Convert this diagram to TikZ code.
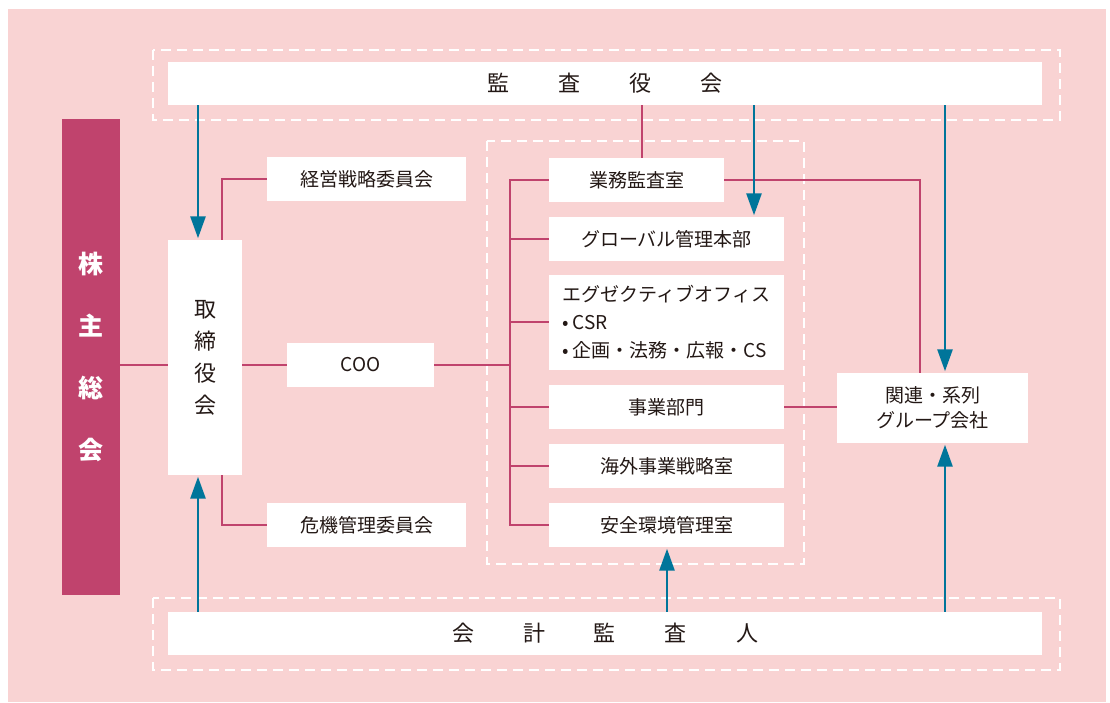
\documentclass[tikz,border=0pt]{standalone}
\usepackage{fontspec}
\setmainfont{Noto Sans CJK JP}
\usetikzlibrary{arrows.meta}
\definecolor{bgpink}{HTML}{F9D3D3}
\definecolor{linepink}{HTML}{C0436D}
\definecolor{arrowblue}{HTML}{00759A}
\definecolor{textdark}{HTML}{231815}

\begin{document}
\begin{tikzpicture}[x=1pt,y=-1pt]
        \tikzstyle{every node}+=[inner sep=0pt]
        \tikzstyle{box}=[fill=white,text=textdark,font=\fontsize{19}{25}\selectfont,align=center]
        \tikzstyle{link}=[linepink,line width=2pt]
        \tikzstyle{flow}=[arrowblue,line width=2.7pt,shorten >=1.5pt,-{Triangle[length=22pt,width=15pt]}]
        \tikzstyle{group}=[white,line width=2.3pt,dash pattern=on 10pt off 6pt]
        \useasboundingbox (0,0) rectangle (1110,702);
        \fill [bgpink] (8,9) rectangle (1106,702);
        \draw [group] (153,50) rectangle (1060,120);
        \draw [group] (153,598) rectangle (1060,670);
        \draw [group] (487,141) rectangle (804,564);
        \coordinate (spine) at (510,0);
        \coordinate (xA) at (198,0);
        \coordinate (xB) at (754,0);
        \coordinate (xC) at (945,0);
        \coordinate (xD) at (667,0);
        \coordinate (xE) at (222,0);
        \coordinate (xF) at (642,0);
        \coordinate (xG) at (920,0);
        \node [box,minimum width=874pt,minimum height=43pt,font=\fontsize{22}{26}\selectfont] (kansa) at (605,83.5) {監\hspace{49pt}査\hspace{49pt}役\hspace{49pt}会};
        \node [box,minimum width=874pt,minimum height=43pt,font=\fontsize{22}{26}\selectfont] (kaikei) at (605,633.5) {会\hspace{49pt}計\hspace{49pt}監\hspace{49pt}査\hspace{49pt}人};
        \node [fill=linepink,text=white,minimum width=58pt,minimum height=476pt,align=center,font=\fontsize{25}{62}\selectfont\bfseries] (kabunushi) at (91,357) {株\\主\\総\\会};
        \node [box,minimum width=74pt,minimum height=235pt,font=\fontsize{22}{32}\selectfont] (torishimari) at (205,357.5) {取\\締\\役\\会};
        \node [box,minimum width=199pt,minimum height=44pt] (keiei) at (366.5,179) {経営戦略委員会};
        \node [box,minimum width=199pt,minimum height=44pt] (kiki) at (366.5,525) {危機管理委員会};
        \node [box,minimum width=147pt,minimum height=44pt] (coo) at (360.5,365) {COO};
        \node [box,minimum width=175pt,minimum height=44pt] (gyomu) at (636.5,180) {業務監査室};
        \node [box,minimum width=235pt,minimum height=44pt] (global) at (666.5,239) {グローバル管理本部};
        \node [box,minimum width=235pt,minimum height=95pt,align=left,font=\fontsize{19}{28}\selectfont] (exec) at (666.5,322) {エグゼクティブオフィス\\•\,CSR\\•\,企画・法務・広報・CS};
        \node [box,minimum width=235pt,minimum height=44pt] (jigyo) at (666.5,407) {事業部門};
        \node [box,minimum width=235pt,minimum height=44pt] (kaigai) at (666.5,466) {海外事業戦略室};
        \node [box,minimum width=235pt,minimum height=44pt] (anzen) at (666.5,525) {安全環境管理室};
        \node [box,minimum width=191pt,minimum height=70pt] (kanren) at (932.5,408) {関連・系列\\グループ会社};
        \draw [link] (kabunushi.east |- coo.west) -- (torishimari.west |- coo.west);
        \draw [link] (torishimari.east |- coo.west) -- (coo.west);
        \draw [link] (coo.east) -- (spine |- coo.east);
        \draw [link] (gyomu.west) -| (spine |- anzen.west) -- (anzen.west);
        \foreach \n in {global,exec,jigyo,kaigai}
                \draw [link] (spine |- \n.west) -- (\n.west);
        \draw [link] (xE |- torishimari.north) |- (keiei.west);
        \draw [link] (xE |- torishimari.south) |- (kiki.west);
        \draw [link] (xF |- kansa.south) -- (xF |- gyomu.north);
        \draw [link] (gyomu.east) -| (xG |- kanren.north);
        \draw [link] (jigyo.east) -- (jigyo.east -| kanren.west);
        \draw [flow] (xA |- kansa.south) -- (xA |- torishimari.north);
        \draw [flow] (xA |- kaikei.north) -- (xA |- torishimari.south);
        \draw [flow] (xB |- kansa.south) -- (xB |- global.north);
        \draw [flow] (xC |- kansa.south) -- (xC |- kanren.north);
        \draw [flow] (xC |- kaikei.north) -- (xC |- kanren.south);
        \draw [flow] (xD |- kaikei.north) -- (xD |- anzen.south);
\end{tikzpicture}
\end{document}
